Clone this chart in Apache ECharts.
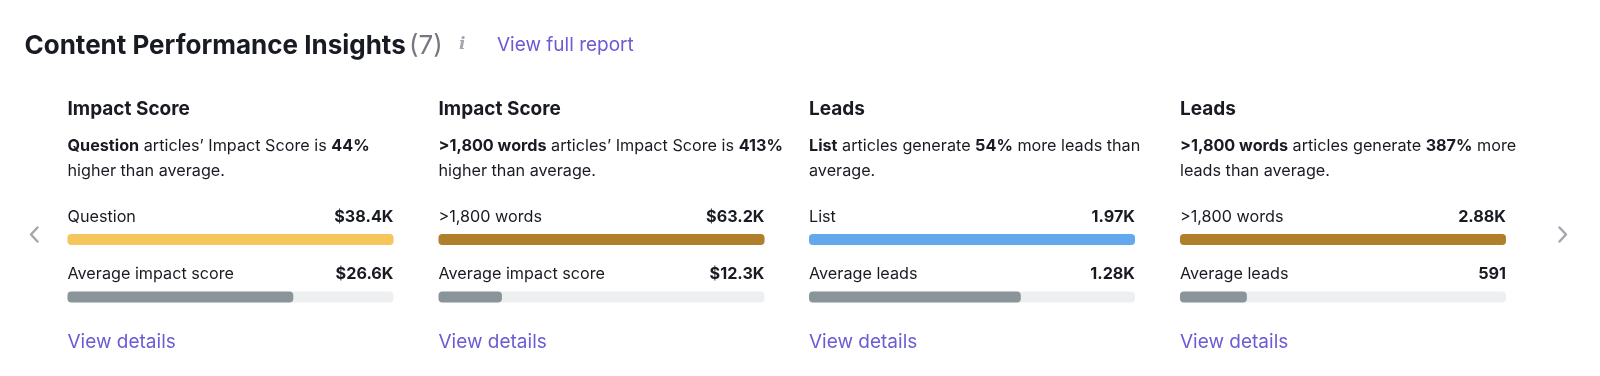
<!DOCTYPE html>
<html>
<head>
<meta charset="utf-8">
<title>Content Performance Insights</title>
<script src="https://cdn.jsdelivr.net/npm/echarts@6/dist/echarts.min.js"></script>
<style>
  html, body { margin: 0; padding: 0; background: #fff; }
  #chart { width: 1600px; height: 376px; }
</style>
</head>
<body>
<div id="chart"></div>
<script>
// data
const insightCount = 7;
const cardMetrics = ['Impact Score', 'Impact Score', 'Leads', 'Leads'];
const segmentNames = ['Question', '>1,800 words', 'List', '>1,800 words'];
const segmentValues = [38400, 63200, 1970, 2880];
const segmentLabels = ['$38.4K', '$63.2K', '1.97K', '2.88K'];
const averageNames = ['Average impact score', 'Average impact score', 'Average leads', 'Average leads'];
const averageValues = [26600, 12300, 1280, 591];
const averageLabels = ['$26.6K', '$12.3K', '1.28K', '591'];
const upliftPct = [44, 413, 54, 387];
const segmentColors = ['#f5c65a', '#b07f2b', '#63a8ec', '#b07f2b'];

// description lines (line breaks as in the reference)
const descriptions = [
  '{b|Question} articles’ Impact Score is {b|44%}\nhigher than average.',
  '{b|>1,800 words} articles’ Impact Score is {b|413%}\nhigher than average.',
  '{b|List} articles generate {b|54%} more leads than\naverage.',
  '{b|>1,800 words} articles generate {b|387%} more\nleads than average.'
];

const FONT = 'Inter, "Noto Sans", sans-serif';
const DARK = '#191b23';
const LINK = '#6b5cd3';
const GREY_BAR = '#8a9599';
const TRACK = '#eeeff1';
const BODY = 16.2;

const cardLeft = [67.5, 438.5, 809, 1180];
const barSpan = 326;

const chart = echarts.init(document.getElementById('chart'));

const grids = [];
const xAxes = [];
const yAxes = [];
const series = [];
const graphics = [];

cardMetrics.forEach((metric, i) => {
  const left = cardLeft[i];
  grids.push({ left: left, top: 210.75, width: barSpan, height: 115 });
  xAxes.push({ type: 'value', gridIndex: i, min: 0, max: 'dataMax', show: false });
  yAxes.push({ type: 'category', gridIndex: i, inverse: true, show: false,
    data: [segmentNames[i], averageNames[i]] });
  series.push({
    type: 'bar',
    xAxisIndex: i,
    yAxisIndex: i,
    barWidth: 11,
    showBackground: true,
    backgroundStyle: { color: TRACK, borderRadius: 4 },
    itemStyle: { borderRadius: 4 },
    silent: true,
    data: [
      { value: segmentValues[i], itemStyle: { color: segmentColors[i] } },
      { value: averageValues[i], itemStyle: { color: GREY_BAR } }
    ]
  });

  graphics.push(
    { type: 'text', x: left, y: 109, style: { text: metric, fill: DARK, fontFamily: FONT,
      fontSize: 19, fontWeight: 'bold', verticalAlign: 'middle' } },
    { type: 'text', x: left, y: 134, style: { text: descriptions[i], fill: DARK, fontFamily: FONT,
      fontSize: BODY, lineHeight: 25, verticalAlign: 'top',
      rich: { b: { fontFamily: FONT, fontSize: BODY, fontWeight: 'bold', lineHeight: 25, fill: DARK } } } },
    { type: 'text', x: left, y: 217.5, style: { text: segmentNames[i], fill: DARK, fontFamily: FONT,
      fontSize: BODY, verticalAlign: 'middle' } },
    { type: 'text', x: left + barSpan, y: 217.5, style: { text: segmentLabels[i], fill: DARK, fontFamily: FONT,
      fontSize: BODY, fontWeight: 'bold', align: 'right', verticalAlign: 'middle' } },
    { type: 'text', x: left, y: 274.5, style: { text: averageNames[i], fill: DARK, fontFamily: FONT,
      fontSize: BODY, verticalAlign: 'middle' } },
    { type: 'text', x: left + barSpan, y: 274.5, style: { text: averageLabels[i], fill: DARK, fontFamily: FONT,
      fontSize: BODY, fontWeight: 'bold', align: 'right', verticalAlign: 'middle' } },
    { type: 'text', x: left, y: 342.5, style: { text: 'View details', fill: LINK, fontFamily: FONT,
      fontSize: 19, verticalAlign: 'middle' } }
  );
});

// header
graphics.push(
  { type: 'text', x: 24.5, y: 46, style: {
    text: '{t|Content Performance Insights} {n|(' + insightCount + ')}',
    verticalAlign: 'middle',
    rich: {
      t: { fontFamily: FONT, fontSize: 26, fontWeight: 'bold', fill: DARK },
      n: { fontFamily: FONT, fontSize: 26, fill: '#757780' }
    } } },
  { type: 'text', x: 459, y: 45, style: { text: 'i', fill: '#a4a7ae', fontFamily: '"DejaVu Serif", serif',
    fontSize: 17, fontStyle: 'italic', fontWeight: 'bold', verticalAlign: 'middle' } },
  { type: 'text', x: 497, y: 45, style: { text: 'View full report', fill: LINK, fontFamily: FONT,
    fontSize: 19, verticalAlign: 'middle' } }
);

// carousel arrows
graphics.push(
  { type: 'polyline', shape: { points: [[37.5, 227.5], [31, 234.5], [37.5, 241.5]] },
    style: { stroke: '#a3a8ac', lineWidth: 2.5, fill: null, lineCap: 'round', lineJoin: 'round' } },
  { type: 'polyline', shape: { points: [[1559.5, 227.5], [1566, 234.5], [1559.5, 241.5]] },
    style: { stroke: '#a3a8ac', lineWidth: 2.5, fill: null, lineCap: 'round', lineJoin: 'round' } }
);

chart.setOption({
  animation: false,
  backgroundColor: '#ffffff',
  grid: grids,
  xAxis: xAxes,
  yAxis: yAxes,
  series: series,
  graphic: graphics
});
</script>
</body>
</html>
